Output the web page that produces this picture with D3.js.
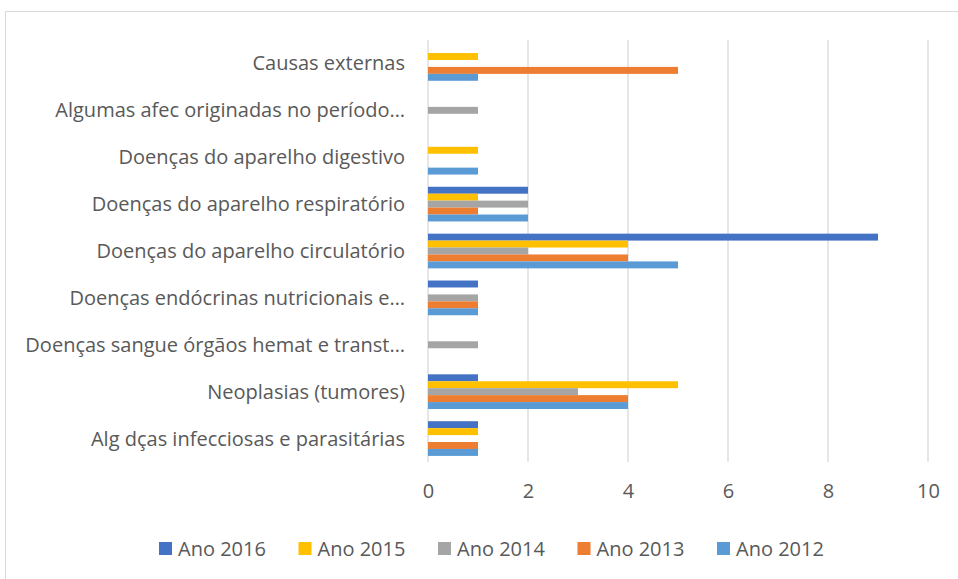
<!DOCTYPE html>
<html>
<head>
<meta charset="utf-8">
<script src="https://cdn.jsdelivr.net/npm/d3@7"></script>
<style>
  body { margin: 0; background: #fff; }
  svg { display: block; font-family: "Open Sans", sans-serif; }
</style>
</head>
<body>
<svg id="chart" width="958" height="579"></svg>
<script>
// categories, top to bottom as shown
var categories = [
  'Causas externas',
  'Algumas afec originadas no período…',
  'Doenças do aparelho digestivo',
  'Doenças do aparelho respiratório',
  'Doenças do aparelho circulatório',
  'Doenças endócrinas nutricionais e…',
  'Doenças sangue órgãos hemat e transt…',
  'Neoplasias (tumores)',
  'Alg dças infecciosas e parasitárias'
];

var seriesNames = ['Ano 2016', 'Ano 2015', 'Ano 2014', 'Ano 2013', 'Ano 2012'];
var seriesColors = ['#4472C4', '#FFC000', '#A5A5A5', '#ED7D31', '#5B9BD5'];

var ano2016 = [0, 0, 0, 2, 9, 1, 0, 1, 1];
var ano2015 = [1, 0, 1, 1, 4, 0, 0, 5, 1];
var ano2014 = [0, 1, 0, 2, 2, 1, 1, 3, 0];
var ano2013 = [5, 0, 0, 1, 4, 1, 0, 4, 1];
var ano2012 = [1, 0, 1, 2, 5, 1, 0, 4, 1];

var xTicks = [0, 2, 4, 6, 8, 10];

var seriesValues = [ano2016, ano2015, ano2014, ano2013, ano2012];

var svg = d3.select('#chart');

// outer frame
svg.append('rect')
   .attr('x', 5.5).attr('y', 11.5)
   .attr('width', 960).attr('height', 580)
   .attr('fill', 'none')
   .attr('stroke', '#d9d9d9');

var plotL = 428, plotR = 928, plotT = 40, plotB = 462;

var x = d3.scaleLinear().domain([0, 10]).range([plotL, plotR]);
var y = d3.scaleBand().domain(categories).range([plotT, plotB]).paddingInner(0.26).paddingOuter(0.13);
var ySub = d3.scaleBand().domain(seriesNames).range([0, y.bandwidth()]);

// gridlines
svg.append('g')
   .selectAll('line')
   .data(xTicks)
   .enter()
   .append('line')
      .attr('x1', function(d){ return x(d); })
      .attr('x2', function(d){ return x(d); })
      .attr('y1', plotT)
      .attr('y2', plotB)
      .attr('stroke', '#d9d9d9')
      .attr('stroke-width', 1.3);

// bars
var groups = svg.append('g')
   .selectAll('g')
   .data(categories)
   .enter()
   .append('g')
      .attr('transform', function(d){ return 'translate(0,' + y(d) + ')'; });

groups.selectAll('rect')
   .data(function(d, i){
      return seriesNames.map(function(s, j){ return { s: s, v: seriesValues[j][i], c: seriesColors[j] }; });
   })
   .enter()
   .append('rect')
      .attr('x', x(0))
      .attr('y', function(d){ return ySub(d.s); })
      .attr('width', function(d){ return x(d.v) - x(0); })
      .attr('height', ySub.bandwidth())
      .attr('fill', function(d){ return d.c; });

// category labels
svg.append('g')
   .selectAll('text')
   .data(categories)
   .enter()
   .append('text')
      .attr('x', 405)
      .attr('y', function(d){ return y(d) + y.bandwidth() / 2; })
      .attr('dy', '0.35em')
      .attr('text-anchor', 'end')
      .attr('fill', '#595959')
      .style('font-size', '20px')
      .text(function(d){ return d; });

// x axis labels
var xAxis = d3.axisBottom(x).tickValues(xTicks).tickSize(0).tickPadding(22);
var ax = svg.append('g')
   .attr('transform', 'translate(0,' + plotB + ')')
   .call(xAxis);
ax.select('.domain').remove();
ax.selectAll('text')
   .attr('fill', '#595959')
   .style('font-size', '20px')
   .style('font-family', '"Open Sans", sans-serif');

// legend
var legend = svg.append('g')
   .selectAll('g')
   .data(seriesNames)
   .enter()
   .append('g')
      .attr('transform', function(d, i){ return 'translate(' + (159 + i * 139.5) + ',542)'; });

legend.append('rect')
   .attr('width', 13).attr('height', 13)
   .attr('fill', function(d, i){ return seriesColors[i]; });

legend.append('text')
   .attr('x', 19).attr('y', 6.5)
   .attr('dy', '0.35em')
   .attr('fill', '#595959')
   .style('font-size', '20px')
   .text(function(d){ return d; });
</script>
</body>
</html>
